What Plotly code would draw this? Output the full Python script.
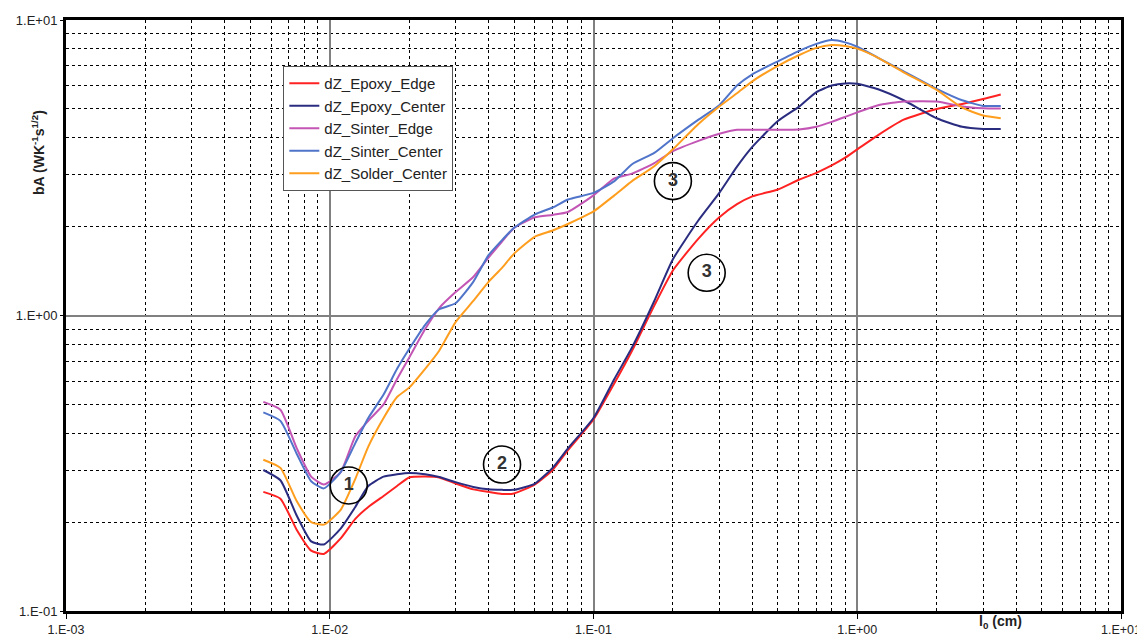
import plotly.graph_objects as go

# x positions (l0 in cm) shared by all series
l0_cm = [0.0056, 0.0065, 0.0075, 0.0085, 0.0095, 0.011, 0.0125, 0.014, 0.016, 0.018,
         0.02, 0.023, 0.026, 0.03, 0.035, 0.04, 0.045, 0.05, 0.06, 0.07,
         0.08, 0.1, 0.12, 0.14, 0.17, 0.2, 0.25, 0.3, 0.35, 0.4,
         0.5, 0.6, 0.7, 0.8, 0.9, 1.0, 1.2, 1.5, 2.0, 2.5, 3.0, 3.5]

epoxy_edge = [0.253, 0.240, 0.188, 0.160, 0.156, 0.176, 0.205, 0.225, 0.245, 0.265,
              0.283, 0.285, 0.283, 0.270, 0.258, 0.253, 0.249, 0.250, 0.268, 0.300,
              0.350, 0.445, 0.590, 0.760, 1.08, 1.42, 1.82, 2.15, 2.38, 2.53,
              2.67, 2.88, 3.04, 3.22, 3.42, 3.65, 4.08, 4.60, 5.00, 5.20, 5.40, 5.60]

epoxy_center = [0.300, 0.277, 0.210, 0.172, 0.168, 0.190, 0.225, 0.265, 0.285, 0.290,
                0.293, 0.290, 0.284, 0.273, 0.263, 0.258, 0.257, 0.257, 0.270, 0.305,
                0.355, 0.450, 0.610, 0.780, 1.12, 1.55, 2.10, 2.60, 3.19, 3.72,
                4.55, 5.08, 5.70, 6.00, 6.10, 6.08, 5.83, 5.35, 4.65, 4.35, 4.28, 4.28]

sinter_edge = [0.510, 0.480, 0.355, 0.285, 0.268, 0.295, 0.390, 0.440, 0.500, 0.610,
               0.720, 0.900, 1.06, 1.20, 1.35, 1.57, 1.78, 1.98, 2.15, 2.19,
               2.24, 2.55, 2.91, 3.02, 3.28, 3.60, 3.90, 4.12, 4.25, 4.25,
               4.25, 4.26, 4.35, 4.52, 4.70, 4.87, 5.15, 5.30, 5.30, 5.10, 5.03, 5.02]

sinter_center = [0.470, 0.440, 0.340, 0.275, 0.260, 0.295, 0.370, 0.450, 0.540, 0.660,
                 0.770, 0.930, 1.05, 1.10, 1.30, 1.60, 1.80, 1.98, 2.20, 2.32,
                 2.47, 2.60, 2.85, 3.25, 3.55, 3.98, 4.60, 5.15, 6.00, 6.55,
                 7.25, 7.85, 8.30, 8.55, 8.40, 8.12, 7.45, 6.70, 5.85, 5.35, 5.12, 5.12]

solder_center = [0.325, 0.305, 0.235, 0.200, 0.196, 0.220, 0.280, 0.360, 0.450, 0.530,
                 0.570, 0.660, 0.760, 0.950, 1.12, 1.30, 1.45, 1.62, 1.85, 1.94,
                 2.04, 2.25, 2.55, 2.85, 3.20, 3.65, 4.45, 5.10, 5.65, 6.20,
                 7.00, 7.60, 8.05, 8.23, 8.17, 8.00, 7.45, 6.65, 5.80, 5.05, 4.75, 4.65]

series_names = ["dZ_Epoxy_Edge", "dZ_Epoxy_Center", "dZ_Sinter_Edge",
                "dZ_Sinter_Center", "dZ_Solder_Center"]
series_values = [epoxy_edge, epoxy_center, sinter_edge, sinter_center, solder_center]
series_colors = ["#FF2222", "#2A2C80", "#C355B5", "#4F74C9", "#FF9E1E"]

x_tick_vals = [0.001, 0.01, 0.1, 1, 10]
x_tick_text = ["1.E-03", "1.E-02", "1.E-01", "1.E+00", "1.E+01"]
y_tick_vals = [0.1, 1, 10]
y_tick_text = ["1.E-01", "1.E+00", "1.E+01"]

ann_labels = ["1", "2", "3", "3"]
ann_x = [0.0118, 0.045, 0.200, 0.2686]
ann_y = [0.266, 0.313, 2.85, 1.395]

FONT = "Liberation Sans, Arial, sans-serif"

fig = go.Figure()
for name, vals, col in zip(series_names, series_values, series_colors):
    fig.add_trace(go.Scatter(
        x=l0_cm, y=vals, name=name, mode="lines",
        line=dict(color=col, width=2, shape="spline", smoothing=0.5),
    ))

# circled region markers
fig.add_trace(go.Scatter(
    x=ann_x, y=ann_y, mode="markers+text",
    text=["<b>" + t + "</b>" for t in ann_labels],
    textposition="middle center",
    textfont=dict(family=FONT, size=18, color="#333333"),
    marker=dict(symbol="circle-open", size=37, color="black", line=dict(width=1.6, color="black")),
    showlegend=False, hoverinfo="skip",
))

fig.add_annotation(xref="paper", yref="paper", x=-0.0265, y=0.775,
                   xanchor="center", yanchor="middle",
                   text="<b>bA (WK<sup>-1</sup>s<sup>1/2</sup>)</b>", textangle=-90,
                   showarrow=False, font=dict(family=FONT, size=14, color="#222222"))
fig.add_annotation(xref="paper", yref="paper", x=0.886, y=-0.018,
                   xanchor="center", yanchor="middle",
                   text="<b>l<sub>0</sub> (cm)</b>", showarrow=False,
                   font=dict(family=FONT, size=14, color="#222222"))

axis_common = dict(
    type="log", showline=True, linecolor="black", linewidth=3, mirror=True,
    showgrid=True, gridcolor="#808080", gridwidth=1.5,
    ticks="outside", tickcolor="black", tickwidth=1,
    zeroline=False, automargin=False, ticklabeloverflow="allow",
    minor=dict(dtick="D1", showgrid=True, gridcolor="black", griddash="3px,3px",
               gridwidth=1, ticks=""),
)

fig.update_xaxes(range=[-3, 1], tickvals=x_tick_vals, ticktext=x_tick_text,
                 ticklen=5, ticklabelstandoff=0,
                 tickfont=dict(family=FONT, size=12.5, color="#222222"), **axis_common)
fig.update_yaxes(range=[-1, 1], tickvals=y_tick_vals, ticktext=y_tick_text,
                 ticklen=3, ticklabelstandoff=0,
                 tickfont=dict(family=FONT, size=13, color="#222222"), **axis_common)

# page body has an 8px default margin, so the figure is sized to fit the window
fig.update_layout(
    width=1137, height=633,
    margin=dict(l=58, r=24, t=12, b=30),
    paper_bgcolor="white", plot_bgcolor="white",
    font=dict(family=FONT, size=13, color="#222222"),
    showlegend=True,
    legend=dict(x=0.206, y=0.922, xanchor="left", yanchor="top",
                bgcolor="white", bordercolor="#555555", borderwidth=1,
                font=dict(size=15, family=FONT, color="#222222"),
                itemwidth=30),
)

fig.write_html("out.html", post_script="document.body.style.overflow='hidden';")
